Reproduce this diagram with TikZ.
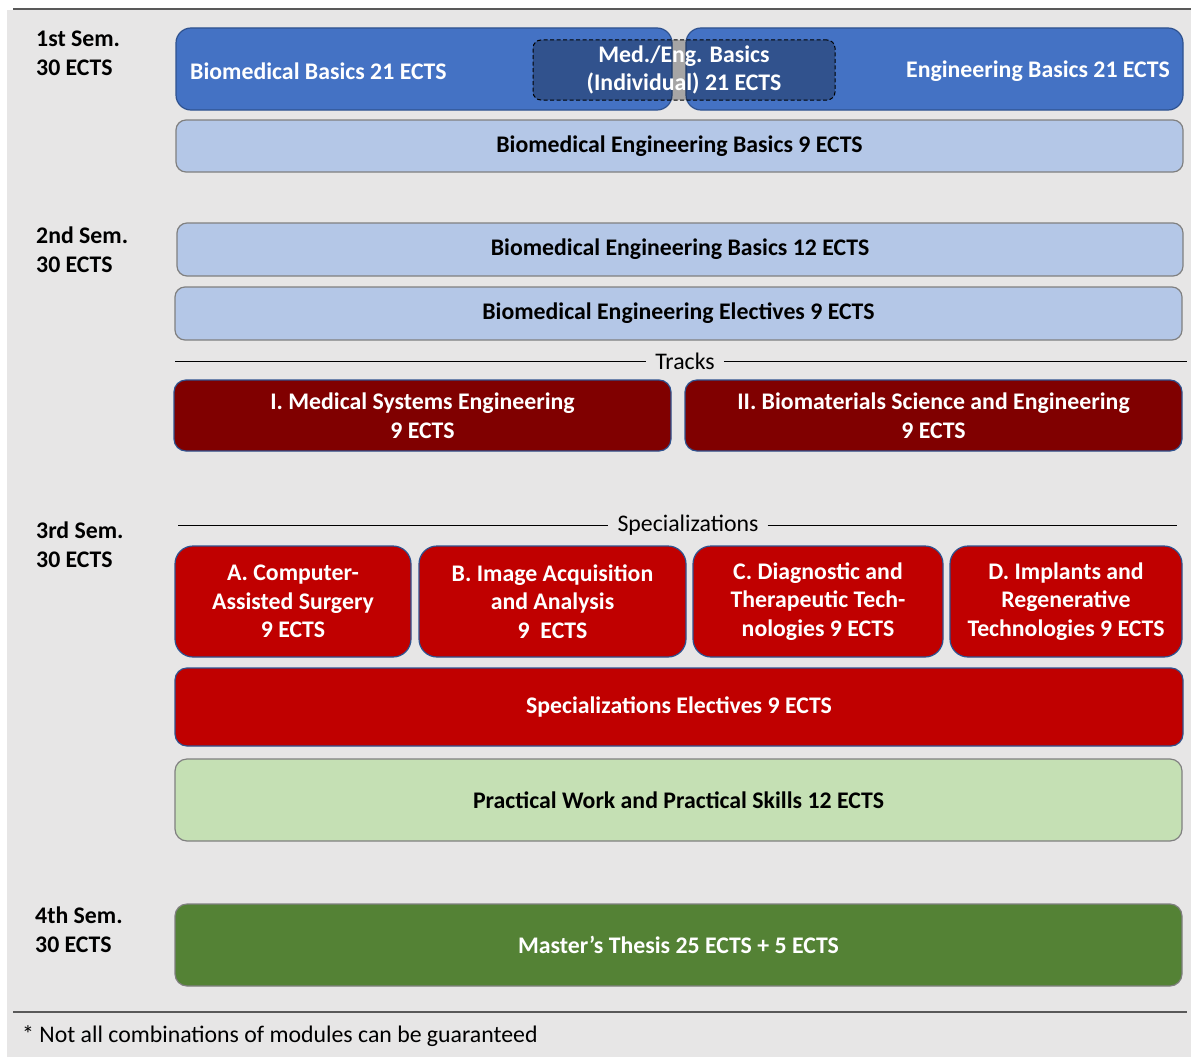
\documentclass[tikz,border=0pt]{standalone}
\usepackage{fontspec}
\setmainfont{Carlito}
\usetikzlibrary{calc}
\definecolor{PanelGrey}{RGB}{231,230,230}
\definecolor{RuleGrey}{RGB}{89,89,89}
\definecolor{BaseBlue}{RGB}{68,114,196}
\definecolor{BaseEdge}{RGB}{47,82,143}
\definecolor{LightBlue}{RGB}{180,199,231}
\definecolor{TrackRed}{RGB}{128,0,0}
\definecolor{SpecRed}{RGB}{192,0,0}
\definecolor{LightGreen}{RGB}{197,224,180}
\definecolor{ThesisGreen}{RGB}{84,130,53}
\definecolor{EdgeGrey}{RGB}{128,128,128}

\begin{document}
\begin{tikzpicture}[x=1pt,y=-1pt]
				\tikzstyle{every node}=[inner sep=0pt, font=\fontsize{23.8}{28.5}\selectfont];
				\tikzstyle{sem}=[anchor=west, align=left, font=\fontsize{23.8}{29}\selectfont\bfseries];
				\tikzstyle{box}=[draw, line width=1.2pt, rounded corners=12pt, align=center, font=\fontsize{23.8}{28.5}\selectfont\bfseries];
				\tikzstyle{blue}=[box, fill=BaseBlue, draw=BaseEdge, text=white, rounded corners=15pt];
				\tikzstyle{light}=[box, fill=LightBlue, draw=EdgeGrey, rounded corners=10pt];
				\tikzstyle{track}=[box, fill=TrackRed, draw=BaseEdge, text=white];
				\tikzstyle{spec}=[box, fill=SpecRed, draw=BaseEdge, text=white, rounded corners=18pt];
				\useasboundingbox (0,0) rectangle (1191,1057);
				\fill[white] (0,0) rectangle (1191,1057);
				\fill[PanelGrey] (7,10) rectangle (1191,1057);
				\draw[RuleGrey, line width=1.5pt] (13,9) -- (1191,9);
				\draw[RuleGrey, line width=1.5pt] (13,1012) -- (1187,1012);
				% semester labels
				\node [sem] (s1) at (36,53) {1st Sem.\\30 ECTS};
				\node [sem] (s2) at (36,250) {2nd Sem.\\30 ECTS};
				\node [sem] (s3) at (36,544.5) {3rd Sem.\\30 ECTS};
				\node [sem] (s4) at (35,930) {4th Sem.\\30 ECTS};
				% 1st semester
				\node [blue, minimum width=496pt, minimum height=82pt] (b01) at (424,69) {};
				\node [blue, minimum width=497pt, minimum height=82pt] (b02) at (934.5,69) {};
				\node [anchor=west, text=white, font=\fontsize{23.8}{28.5}\selectfont\bfseries] (t01) at (190,71) {Biomedical Basics 21 ECTS};
				\node [anchor=east, text=white, font=\fontsize{23.8}{28.5}\selectfont\bfseries] (t02) at (1170,71) {Engineering Basics 21 ECTS};
				\node [draw, dash pattern=on 4pt off 2.5pt, line width=1pt, rounded corners=8pt, fill=black, fill opacity=0.28, text opacity=1, text=white, align=center, font=\fontsize{23.8}{28.5}\selectfont\bfseries, minimum width=302pt, minimum height=60pt] (b03) at (684,70) {Med./Eng. Basics\\(Individual) 21 ECTS};
				\node [light, minimum width=1007pt, minimum height=52pt] (b04) at (679.5,146) {Biomedical Engineering Basics 9 ECTS};
				% 2nd semester
				\node [light, minimum width=1006pt, minimum height=53pt] (b11) at (680,249.5) {Biomedical Engineering Basics 12 ECTS};
				\node [light, minimum width=1007pt, minimum height=53pt] (b12) at (678.5,313.5) {Biomedical Engineering Electives 9 ECTS};
				\node (t1) at (685,361) {Tracks};
				\coordinate (t1l) at (175,361);
				\coordinate (t1r) at (1187,361);
				\draw[line width=1pt] (t1l) -- ([xshift=-9pt]t1.west);
				\draw[line width=1pt] ([xshift=9pt]t1.east) -- (t1r);
				\node [track, minimum width=497pt, minimum height=71pt] (b13) at (422.5,415.5) {I. Medical Systems Engineering\\9 ECTS};
				\node [track, minimum width=497pt, minimum height=71pt] (b14) at (933.5,415.5) {II. Biomaterials Science and Engineering\\9 ECTS};
				% 3rd semester
				\node (t2) at (688,525) {Specializations};
				\coordinate (t2l) at (178,525);
				\coordinate (t2r) at (1177,525);
				\draw[line width=1pt] (t2l) -- ([xshift=-9pt]t2.west);
				\draw[line width=1pt] ([xshift=9pt]t2.east) -- (t2r);
				\node [spec, minimum width=236pt, minimum height=111pt] (b21) at (293,601.5) {A. Computer-\\Assisted Surgery\\9 ECTS};
				\node [spec, minimum width=267pt, minimum height=111pt] (b22) at (552.5,601.5) {B. Image Acquisition\\and Analysis\\9\ \ ECTS};
				\node [spec, minimum width=250pt, minimum height=111pt] (b23) at (818,601.5) {C. Diagnostic and\\Therapeutic Tech-\\nologies 9 ECTS};
				\node [spec, minimum width=232pt, minimum height=111pt] (b24) at (1066,601.5) {D. Implants and\\Regenerative\\Technologies 9 ECTS};
				\node [spec, rounded corners=12pt, minimum width=1008pt, minimum height=78pt] (b25) at (679,707) {Specializations Electives 9 ECTS};
				\node [box, fill=LightGreen, draw=EdgeGrey, minimum width=1007pt, minimum height=82pt] (b26) at (678.5,800) {Practical Work and Practical Skills 12 ECTS};
				% 4th semester
				\node [box, fill=ThesisGreen, draw=EdgeGrey, text=white, minimum width=1007pt, minimum height=82pt] (b31) at (678.5,945) {Master’s Thesis 25 ECTS + 5 ECTS};
				\node [anchor=west] (f01) at (22,1036) {* Not all combinations of modules can be guaranteed};
			\end{tikzpicture}
\end{document}
